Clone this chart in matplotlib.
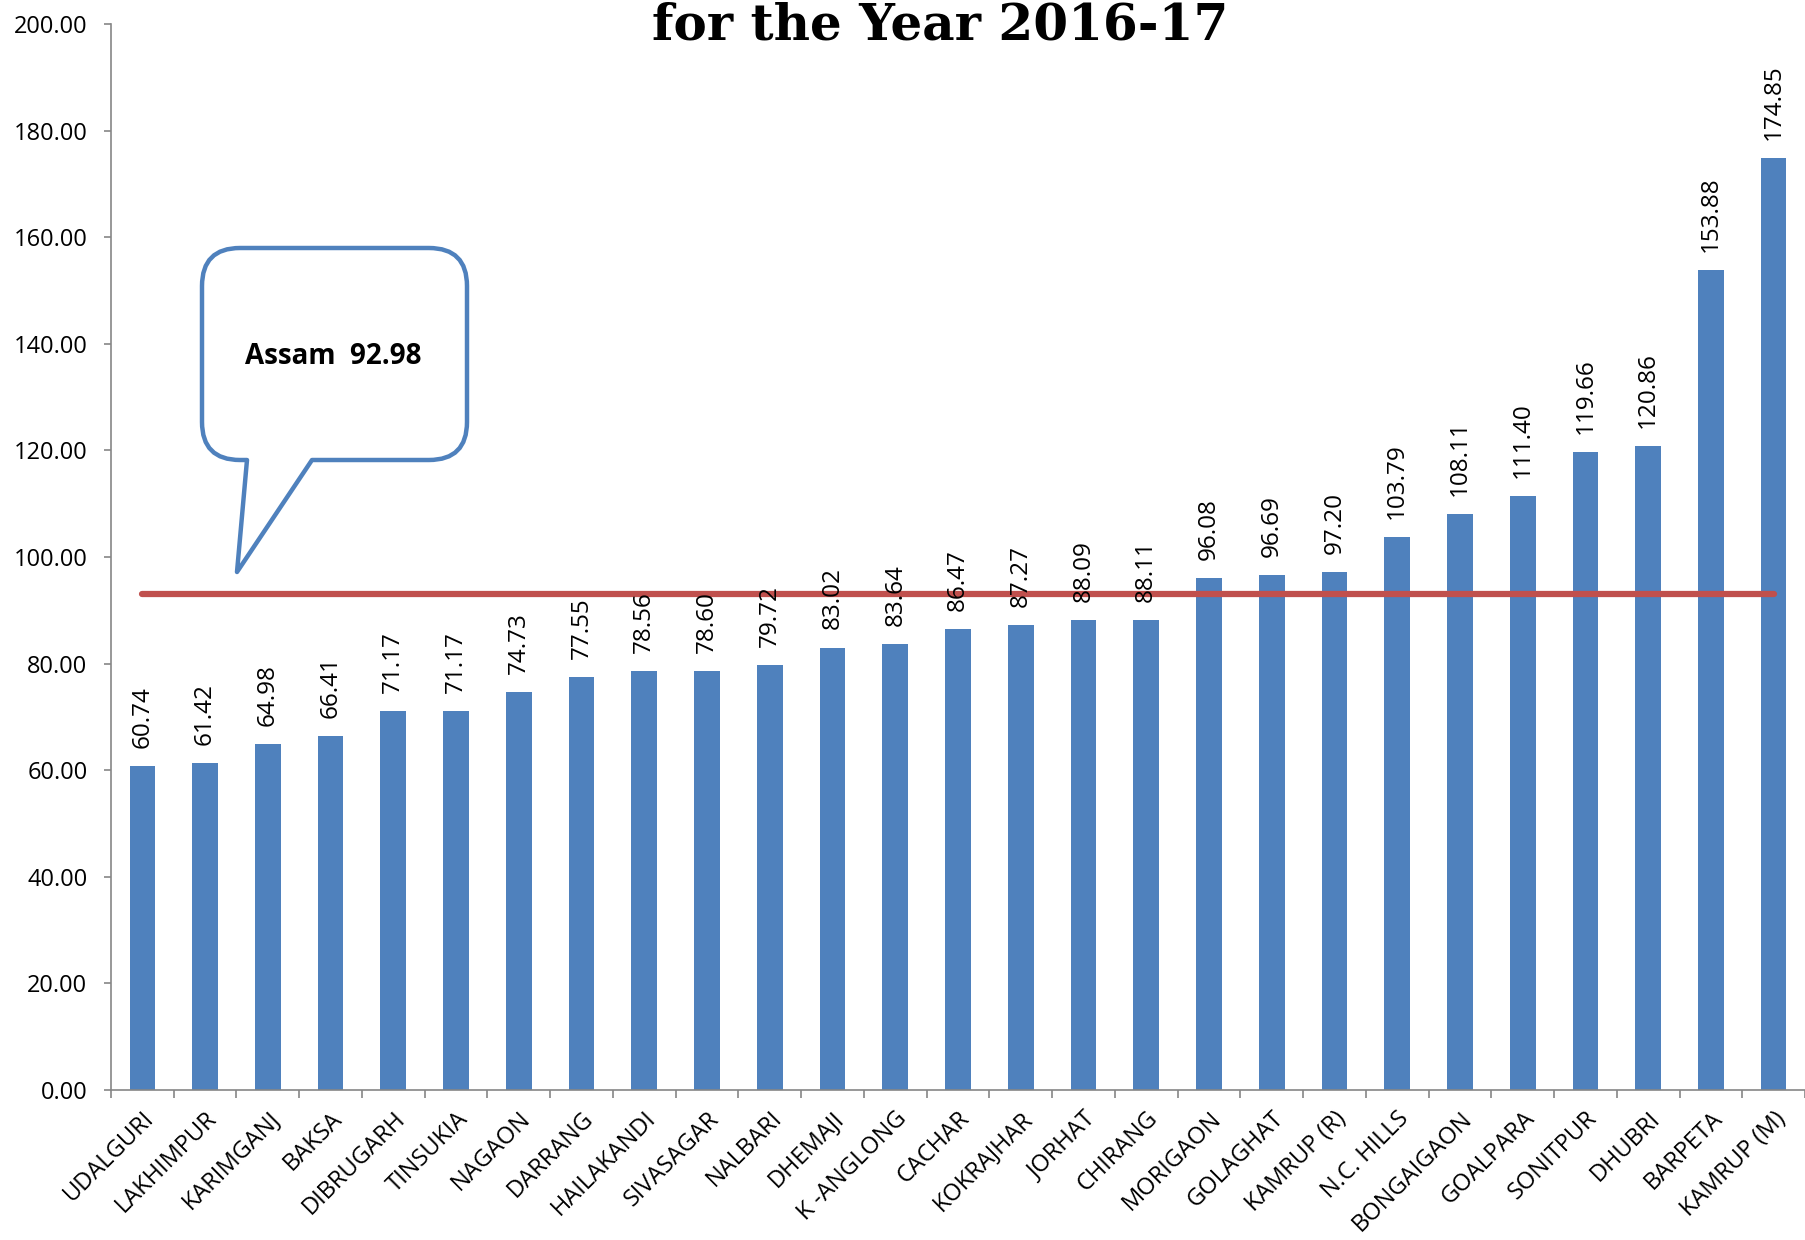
import matplotlib
matplotlib.use("Agg")
import matplotlib.pyplot as plt
from matplotlib.path import Path
from matplotlib.patches import PathPatch

# district-wise values, 2016-17
districts = ['UDALGURI', 'LAKHIMPUR', 'KARIMGANJ', 'BAKSA', 'DIBRUGARH', 'TINSUKIA',
             'NAGAON', 'DARRANG', 'HAILAKANDI', 'SIVASAGAR', 'NALBARI', 'DHEMAJI',
             'K -ANGLONG', 'CACHAR', 'KOKRAJHAR', 'JORHAT', 'CHIRANG', 'MORIGAON',
             'GOLAGHAT', 'KAMRUP (R)', 'N.C. HILLS', 'BONGAIGAON', 'GOALPARA',
             'SONITPUR', 'DHUBRI', 'BARPETA', 'KAMRUP (M)']
values = [60.74, 61.42, 64.98, 66.41, 71.17, 71.17, 74.73, 77.55, 78.56, 78.60,
          79.72, 83.02, 83.64, 86.47, 87.27, 88.09, 88.11, 96.08, 96.69, 97.20,
          103.79, 108.11, 111.40, 119.66, 120.86, 153.88, 174.85]
state_name = 'Assam'
state_avg = 92.98
yticks = [0, 20, 40, 60, 80, 100, 120, 140, 160, 180, 200]

BLUE = '#4F81BD'
RED = '#C0504D'
GREY = '#868686'
W, H = 1806, 1240

plt.rcParams['font.family'] = ['Open Sans', 'DejaVu Sans']

fig = plt.figure(figsize=(W / 100, H / 100), dpi=100)
ax = fig.add_axes([111 / W, 1 - 1090 / H, (1805 - 111) / W, (1090 - 24) / H])

x = list(range(len(districts)))
ax.bar(x, values, width=0.41, color=BLUE, zorder=2)
ax.plot([x[0], x[-1]], [state_avg, state_avg], color=RED, lw=4.5,
        solid_capstyle='round', zorder=3)

for xi, v in zip(x, values):
    ax.annotate(f'{v:.2f}', (xi, v), xytext=(0, 13), textcoords='offset points',
                rotation=90, ha='center', va='bottom', fontsize=17.5, zorder=4)

ax.set_xlim(-0.5, len(districts) - 0.5)
ax.set_ylim(0, 200)
ax.set_yticks(yticks)
ax.set_yticklabels([f'{t:.2f}' for t in yticks], fontsize=17)
ax.tick_params(axis='y', length=5, width=1.2, color=GREY, pad=12)

ax.set_xticks(x)
ax.set_xticklabels(districts, rotation=45, ha='right', rotation_mode='anchor',
                   fontsize=17)
ax.tick_params(axis='x', which='major', length=0, pad=12)
ax.set_xticks([i - 0.5 for i in range(len(districts) + 1)], minor=True)
ax.tick_params(axis='x', which='minor', length=6, width=1.2, color=GREY)

for side in ('top', 'right'):
    ax.spines[side].set_visible(False)
for side in ('left', 'bottom'):
    ax.spines[side].set_color(GREY)
    ax.spines[side].set_linewidth(1.2)

fig.text(940 / W, 1 - 40 / H, 'for the Year 2016-17', ha='center', va='baseline',
         fontsize=36, fontweight='heavy', family='DejaVu Serif')

# speech-bubble callout for the state average
L, R, T, B, r = 202, 467, 248, 460, 38
t1, t2, tip = 247, 312, (237, 572)
pts = [(t1, B), tip, (t2, B), (R - r, B), (R, B), (R, B - r), (R, T + r), (R, T),
       (R - r, T), (L + r, T), (L, T), (L, T + r), (L, B - r), (L, B), (L + r, B),
       (t1, B)]
codes = [Path.MOVETO, Path.LINETO, Path.LINETO, Path.LINETO, Path.CURVE3, Path.CURVE3,
         Path.LINETO, Path.CURVE3, Path.CURVE3, Path.LINETO, Path.CURVE3, Path.CURVE3,
         Path.LINETO, Path.CURVE3, Path.CURVE3, Path.CLOSEPOLY]
bubble = Path([(px / W, 1 - py / H) for px, py in pts], codes)
fig.patches.append(PathPatch(bubble, transform=fig.transFigure, facecolor='white',
                             edgecolor=BLUE, lw=3.2, joinstyle='round', zorder=5))
fig.text(333 / W, 1 - 357 / H, f'{state_name}  {state_avg:.2f}', ha='center',
         va='center', fontsize=20, fontweight='bold', zorder=6)

fig.savefig('out.png', dpi=100)
